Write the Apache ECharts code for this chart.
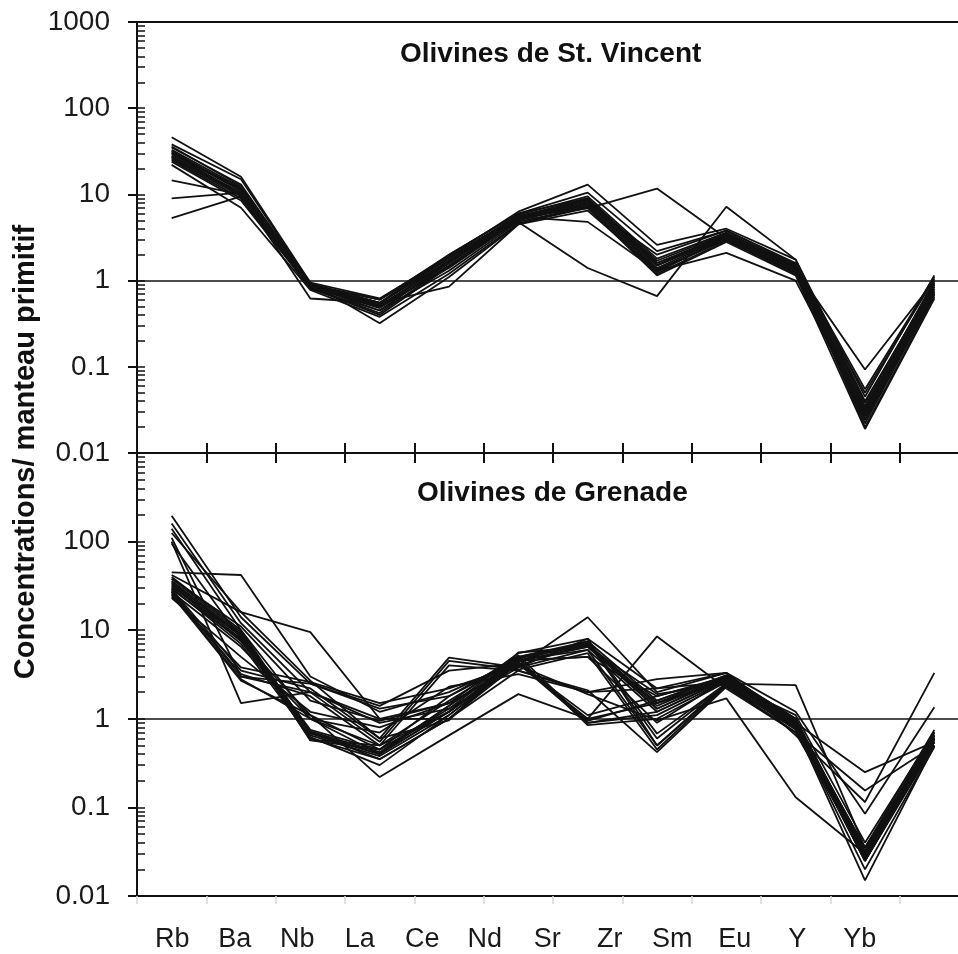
<!DOCTYPE html>
<html>
<head>
<meta charset="utf-8">
<script src="https://cdn.jsdelivr.net/npm/echarts@6/dist/echarts.min.js"></script>
<style>
html,body{margin:0;padding:0;background:#fff;overflow:hidden;}
#chart{width:976px;height:954px;}
</style>
</head>
<body>
<div id="chart"></div>
<script>
// ---- categories & tick labels ----
const categories = ['Rb','Ba','Nb','La','Ce','Nd','Sr','Zr','Sm','Eu','Y','Yb'];
const yTickValues = [0.01, 0.1, 1, 10, 100, 1000];
const yTickLabels = ['0.01', '0.1', '1', '10', '100', '1000'];
const panelTitles = ['Olivines de St. Vincent', 'Olivines de Grenade'];
const yAxisTitle = 'Concentrations/ manteau primitif';
const referenceLevel = 1;

// ---- St. Vincent olivines (Rb, Ba, Nb, La, Ce, Nd, Sr, Zr, Sm, Eu, Y, Yb) ----
const sv01 = [46, 16, 0.95, 0.62, 1.9, 6.3, 13, 2.6, 4.0, 1.75, 0.045, 1.15];
const sv02 = [38, 15, 0.92, 0.55, 2.0, 6.0, 10.5, 2.2, 3.8, 1.6, 0.035, 1.0];
const sv03 = [35, 13, 0.9, 0.6, 1.8, 5.8, 9.5, 1.8, 3.6, 1.5, 0.032, 0.95];
const sv04 = [33, 12, 0.88, 0.5, 1.7, 5.5, 9.0, 1.6, 3.4, 1.45, 0.03, 0.9];
const sv05 = [31, 11.5, 0.9, 0.52, 1.6, 5.6, 8.5, 1.5, 3.3, 1.4, 0.028, 0.85];
const sv06 = [30, 11, 0.85, 0.48, 1.5, 5.2, 8.0, 1.4, 3.2, 1.35, 0.03, 0.8];
const sv07 = [28, 10.5, 0.87, 0.45, 1.6, 5.3, 8.2, 1.3, 3.1, 1.3, 0.025, 0.75];
const sv08 = [27, 10, 0.84, 0.5, 1.4, 5.0, 7.8, 1.35, 3.0, 1.25, 0.027, 0.7];
const sv09 = [26, 9.5, 0.83, 0.42, 1.5, 5.1, 7.5, 1.25, 3.2, 1.3, 0.022, 0.72];
const sv10 = [25, 9, 0.8, 0.45, 1.3, 4.8, 7.2, 1.2, 2.9, 1.2, 0.024, 0.68];
const sv11 = [24, 8.5, 0.82, 0.4, 1.45, 5.0, 8.8, 1.5, 3.5, 1.4, 0.02, 0.65];
const sv12 = [22, 7, 0.78, 0.38, 1.2, 4.6, 7.0, 1.15, 2.8, 1.15, 0.019, 0.62];
const sv13 = [14.5, 10, 0.9, 0.55, 1.7, 5.5, 8.5, 1.6, 3.3, 1.4, 0.05, 1.05];
const sv14 = [9, 10.5, 0.88, 0.6, 2.0, 6.0, 9.0, 1.7, 3.5, 1.5, 0.055, 1.1];
const sv15 = [5.3, 9.5, 0.85, 0.55, 1.8, 5.4, 8.0, 1.5, 3.2, 1.35, 0.093, 1.0];
const sv16 = [32, 11, 0.9, 0.5, 1.7, 4.8, 1.4, 0.66, 7.2, 1.75, 0.04, 0.9];
const sv17 = [29, 12, 0.92, 0.55, 1.9, 5.5, 6.9, 11.7, 3.1, 1.2, 0.03, 0.8];
const sv18 = [30, 10, 0.85, 0.5, 1.6, 5.5, 4.8, 1.3, 3.0, 1.2, 0.033, 0.85];
const sv19 = [27, 10, 0.62, 0.55, 0.85, 4.5, 6.5, 1.3, 2.1, 1.0, 0.028, 0.75];
const sv20 = [36, 12.5, 0.95, 0.32, 1.1, 4.5, 7.5, 2.0, 3.8, 1.55, 0.038, 0.95];
const stVincent = [sv01, sv02, sv03, sv04, sv05, sv06, sv07, sv08, sv09, sv10,
                   sv11, sv12, sv13, sv14, sv15, sv16, sv17, sv18, sv19, sv20];

// ---- Grenada olivines ----
const gr01 = [196, 14, 2.5, 1.3, 1.8, 4.5, 6.5, 1.5, 2.8, 1.0, 0.03, 0.6];
const gr02 = [160, 12, 2.0, 1.0, 1.5, 4.0, 7.0, 1.3, 3.0, 0.9, 0.025, 0.55];
const gr03 = [140, 10, 1.0, 0.5, 1.2, 4.5, 7.5, 1.6, 3.1, 1.0, 0.028, 0.65];
const gr04 = [125, 16, 9.5, 1.0, 1.0, 3.5, 2.0, 2.2, 2.6, 1.1, 0.04, 0.7];
const gr05 = [110, 3.0, 2.5, 1.4, 3.5, 4.2, 1.0, 1.5, 2.6, 0.9, 0.035, 0.6];
const gr06 = [100, 1.5, 2.0, 0.9, 1.3, 3.8, 8.0, 0.5, 2.4, 0.8, 0.025, 0.5];
const gr07 = [95, 8, 0.7, 0.35, 1.0, 4.2, 0.9, 1.2, 2.8, 0.8, 0.03, 0.55];
const gr08 = [45, 42, 3.0, 1.2, 2.0, 4.5, 5.0, 1.8, 2.9, 1.0, 0.03, 0.6];
const gr09 = [40, 10, 0.7, 0.4, 1.2, 4.8, 6.8, 1.4, 3.0, 0.9, 0.03, 0.65];
const gr10 = [38, 9.5, 0.65, 0.38, 1.1, 4.5, 6.5, 1.3, 2.9, 0.85, 0.028, 0.6];
const gr11 = [36, 9, 0.6, 0.35, 1.0, 4.6, 6.0, 1.2, 2.8, 0.8, 0.027, 0.58];
const gr12 = [35, 8.5, 0.75, 0.45, 1.3, 5.0, 7.0, 1.5, 3.1, 1.0, 0.032, 0.7];
const gr13 = [33, 8, 0.72, 0.42, 1.4, 5.2, 0.9, 1.1, 2.7, 0.9, 0.03, 0.62];
const gr14 = [32, 7.5, 0.68, 0.4, 1.2, 4.8, 0.85, 1.0, 2.6, 0.85, 0.028, 0.6];
const gr15 = [30, 7, 0.62, 0.3, 1.1, 4.4, 0.95, 1.6, 3.0, 0.95, 0.025, 0.55];
const gr16 = [29, 3.5, 2.2, 0.6, 4.9, 3.8, 6.0, 0.5, 2.5, 0.75, 0.032, 0.65];
const gr17 = [28, 3.0, 2.0, 0.55, 4.5, 3.6, 5.5, 0.45, 2.4, 0.7, 0.03, 0.6];
const gr18 = [27, 3.2, 1.8, 0.5, 4.0, 3.5, 2.1, 0.42, 2.3, 0.7, 0.028, 0.55];
const gr19 = [26, 2.8, 1.0, 0.7, 2.3, 3.2, 2.0, 2.8, 3.3, 0.9, 0.25, 0.55];
const gr20 = [25, 2.7, 1.1, 0.22, 0.65, 1.9, 1.0, 8.5, 2.2, 0.7, 0.155, 0.5];
const gr21 = [24, 3.8, 2.6, 1.5, 2.2, 4.0, 14, 2.0, 3.3, 0.65, 0.115, 3.3];
const gr22 = [23, 5, 1.2, 0.8, 1.5, 5.5, 8.0, 2.2, 3.3, 1.2, 0.085, 1.35];
const gr23 = [42, 16, 2.7, 0.6, 0.96, 5.6, 6.5, 1.9, 2.5, 2.4, 0.035, 0.75];
const gr24 = [38, 11, 1.6, 0.95, 1.5, 4.0, 1.9, 0.96, 1.7, 0.13, 0.03, 0.7];
const gr25 = [34, 9, 0.57, 0.45, 1.8, 5.0, 7.5, 0.68, 2.5, 0.8, 0.015, 0.5];
const gr26 = [31, 8.8, 0.58, 0.5, 1.6, 4.8, 7.2, 0.6, 2.5, 0.78, 0.02, 0.48];
const gr27 = [29, 7.8, 1.1, 0.45, 1.2, 4.2, 1.1, 1.8, 3.0, 0.9, 0.035, 0.6];
const gr28 = [27, 6.5, 1.0, 0.4, 1.4, 4.6, 5.0, 0.9, 2.8, 0.85, 0.025, 0.55];
const grenade = [gr01, gr02, gr03, gr04, gr05, gr06, gr07, gr08, gr09, gr10,
                 gr11, gr12, gr13, gr14, gr15, gr16, gr17, gr18, gr19, gr20,
                 gr21, gr22, gr23, gr24, gr25, gr26, gr27, gr28];

// ---- helpers ----
const FONT = '"Liberation Sans", Arial, Helvetica, sans-serif';
const INK = '#111';
const minorTicks = [];
for (let e = -2; e < 3; e++) {
  for (let k = 1; k <= 9; k++) minorTicks.push(+(k * Math.pow(10, e)).toPrecision(3));
}
minorTicks.push(1000);

function tickLabel(v, hideMax) {
  const lv = Math.log10(v);
  const i = yTickValues.findIndex(t => Math.abs(Math.log10(t) - lv) < 1e-6);
  if (i < 0) return '';
  if (hideMax && i === yTickValues.length - 1) return '';
  return yTickLabels[i];
}

function mainY(gridIndex, hideMax) {
  return {
    type: 'log', logBase: 10, gridIndex: gridIndex, min: 0.01, max: 1000, position: 'left',
    splitNumber: 5,
    axisLine: { show: true, lineStyle: { color: INK, width: 2 } },
    axisTick: { show: true, inside: false, length: 9, lineStyle: { color: INK, width: 2 } },
    axisLabel: { show: true, margin: 27, fontSize: 28, color: '#1a1a1a', fontFamily: FONT,
                 formatter: v => tickLabel(v, hideMax) },
    splitLine: { show: false }, minorTick: { show: false }
  };
}
function minorY(gridIndex) {
  return {
    type: 'log', logBase: 10, gridIndex: gridIndex, min: 0.01, max: 1000, position: 'left', offset: 0,
    axisLine: { show: false },
    axisTick: { show: true, inside: true, length: 8, customValues: minorTicks,
                lineStyle: { color: INK, width: 1.5 } },
    axisLabel: { show: false }, splitLine: { show: false }
  };
}
function catX(gridIndex, position, extra) {
  return Object.assign({
    type: 'category', data: categories, gridIndex: gridIndex, position: position, boundaryGap: true,
    axisLine: { show: true, lineStyle: { color: INK, width: 2 } },
    axisTick: { show: false }, axisLabel: { show: false }, splitLine: { show: false }
  }, extra || {});
}

const lineStyle = { color: INK, width: 1.8 };
const series = [];
stVincent.forEach((d, i) => series.push({
  type: 'line', name: 'SV' + (i + 1), data: d, xAxisIndex: 0, yAxisIndex: 0,
  symbol: 'none', silent: true, lineStyle: lineStyle, z: 3
}));
grenade.forEach((d, i) => series.push({
  type: 'line', name: 'GR' + (i + 1), data: d, xAxisIndex: 3, yAxisIndex: 2,
  symbol: 'none', silent: true, lineStyle: lineStyle, z: 3
}));
// reference lines at 1 in both panels
series[0].markLine = { silent: true, symbol: 'none', label: { show: false },
  lineStyle: { color: INK, width: 1.5, type: 'solid' }, data: [{ yAxis: referenceLevel }] };
series[stVincent.length].markLine = { silent: true, symbol: 'none', label: { show: false },
  lineStyle: { color: INK, width: 1.5, type: 'solid' }, data: [{ yAxis: referenceLevel }] };

const option = {
  animation: false,
  backgroundColor: '#fff',
  textStyle: { fontFamily: FONT },
  title: [
    { text: panelTitles[0], left: 400, top: 40, padding: 0,
      textStyle: { fontSize: 28, fontWeight: 'bold', color: INK, fontFamily: FONT } },
    { text: panelTitles[1], left: 417, top: 479, padding: 0,
      textStyle: { fontSize: 28, fontWeight: 'bold', color: INK, fontFamily: FONT } }
  ],
  grid: [
    { left: 137, top: 22, width: 832, height: 431, containLabel: false },
    { left: 137, top: 453, width: 832, height: 443, containLabel: false },
    { left: 141, top: 453, width: 750, height: 443, containLabel: false }
  ],
  xAxis: [
    catX(0, 'bottom', { axisTick: { show: true, inside: false, length: 10, interval: 0,
                       lineStyle: { color: INK, width: 2 } } }),
    catX(0, 'top'),
    catX(1, 'top', { axisTick: { show: true, inside: false, length: 10, interval: 0,
                    lineStyle: { color: INK, width: 2 } } }),
    catX(1, 'bottom', { axisTick: { show: true, inside: false, length: 8, interval: 0,
                       lineStyle: { color: '#d8d8d8', width: 1.5 } } }),
    { type: 'category', data: categories, gridIndex: 2, position: 'bottom', boundaryGap: true,
      axisLine: { show: false }, axisTick: { show: false }, splitLine: { show: false },
      axisLabel: { show: true, interval: 0, margin: 30, fontSize: 27, color: '#1a1a1a', fontFamily: FONT } }
  ],
  yAxis: [
    mainY(0, false), minorY(0),
    mainY(1, true), minorY(1),
    { type: 'log', gridIndex: 2, min: 0.01, max: 1000, show: false }
  ],
  graphic: [
    { type: 'text', x: 26, y: 452, rotation: Math.PI / 2,
      style: { text: yAxisTitle, font: 'bold 29px ' + FONT, fill: INK,
               align: 'center', verticalAlign: 'middle', textAlign: 'center', textVerticalAlign: 'middle' } }
  ],
  series: series
};

const chart = echarts.init(document.getElementById('chart'), null, { renderer: 'canvas' });
chart.setOption(option);
</script>
</body>
</html>
